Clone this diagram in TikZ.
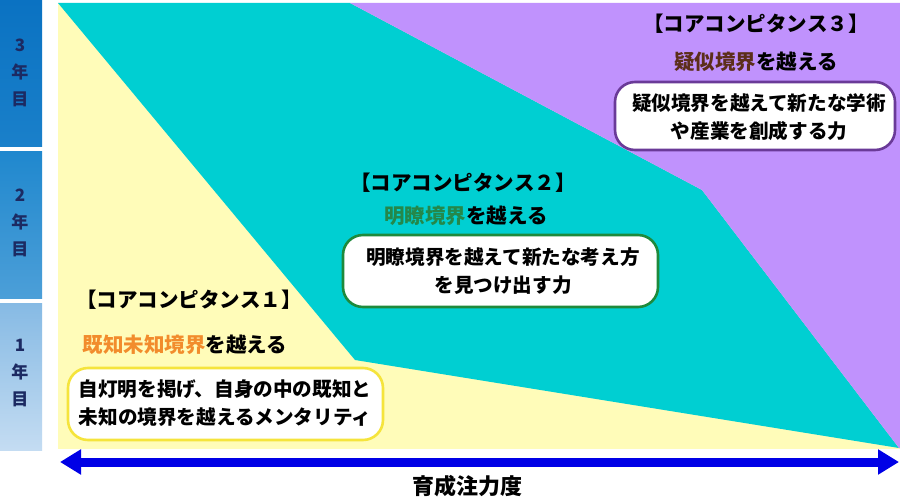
\documentclass[tikz,border=0pt]{standalone}
\usepackage{fontspec}
\setmainfont{Noto Sans CJK JP}
\newfontfamily\heavy{Noto Sans CJK JP Black}
\usetikzlibrary{arrows.meta}
\definecolor{yel}{HTML}{FFFCB9}
\definecolor{tealc}{HTML}{00CFD2}
\definecolor{purp}{HTML}{C092FD}
\definecolor{barAt}{HTML}{0A72C2}
\definecolor{barAb}{HTML}{1A80CA}
\definecolor{barBt}{HTML}{2088CE}
\definecolor{barBb}{HTML}{4C9FD8}
\definecolor{barCt}{HTML}{86BAE4}
\definecolor{barCb}{HTML}{C4DCF2}
\definecolor{navy}{HTML}{1C2A62}
\definecolor{orng}{HTML}{F28C2C}
\definecolor{grn}{HTML}{24884A}
\definecolor{brn}{HTML}{5C2E1A}
\definecolor{bdY}{HTML}{F5E43C}
\definecolor{bdG}{HTML}{1E8A3C}
\definecolor{bdP}{HTML}{6A3A98}
\definecolor{arrowblue}{HTML}{0000E6}
\begin{document}
\begin{tikzpicture}[x=1pt,y=-1pt,
  yearlbl/.style={text=navy,font=\heavy\fontsize{17}{27}\selectfont,align=center},
  head/.style={font=\heavy\fontsize{20.5}{24}\selectfont,inner sep=0pt},
  descbox/.style={draw,line width=2.6pt,fill=white,rounded corners=20pt,align=center,
    font=\heavy\fontsize{19.6}{27.5}\selectfont,inner sep=0pt},
]
\useasboundingbox (0,0) rectangle (900,500);
\fill[white] (0,0) rectangle (900,500);
% left year bar
\shade[top color=barAt,bottom color=barAb] (0,0) rectangle (42,147);
\shade[top color=barBt,bottom color=barBb] (0,152) rectangle (42,298);
\shade[top color=barCt,bottom color=barCb] (0,303) rectangle (42,450);
\node[yearlbl] (y3) at (20,73) {3\\年\\目};
\node[yearlbl] (y2) at (20,223) {2\\年\\目};
\node[yearlbl] (y1) at (20,373) {1\\年\\目};
% regions
\fill[yel] (58,3) rectangle (900,449);
\fill[tealc] (58,3) -- (350,3) -- (702,190) -- (899,448) -- (355,360) -- cycle;
\fill[purp] (350,3) -- (900,3) -- (900,448) -- (899,448) -- (702,190) -- cycle;
% competence 1
\node[head] (h1) at (189,300) {【コアコンピタンス１】};
\node[head] (s1) at (185,345) {\textcolor{orng}{既知未知境界}を越える};
\draw[descbox,draw=bdY] (68,368) rectangle (383,440);
\node[descbox,draw=none,fill=none] (d1) at (225,403) {自灯明を掲げ、自身の中の既知と\\未知の境界を越えるメンタリティ};
% competence 2
\node[head] (h2) at (463,183) {【コアコンピタンス２】};
\node[head] (s2) at (466,216) {\textcolor{grn}{明瞭境界}を越える};
\draw[descbox,draw=bdG] (343,235) rectangle (658,307);
\node[descbox,draw=none,fill=none] (d2) at (503,271) {明瞭境界を越えて新たな考え方\\を見つけ出す力};
% competence 3
\node[head] (h3) at (756,24) {【コアコンピタンス３】};
\node[head] (s3) at (756,62) {\textcolor{brn}{疑似境界}を越える};
\draw[descbox,draw=bdP] (615,82) rectangle (895,150);
\node[descbox,draw=none,fill=none] (d3) at (759,117) {疑似境界を越えて新たな学術\\や産業を創成する力};
% axis arrow
\coordinate (al) at (60,462);
\coordinate (ar) at (899,462);
\draw[arrowblue,line width=9pt,{Triangle[length=21pt,width=24pt]}-{Triangle[length=21pt,width=24pt]}] (al) -- (ar);
\node[font=\heavy\fontsize{22}{26}\selectfont,inner sep=0pt] (ax) at (467,486) {育成注力度};
\end{tikzpicture}
\end{document}
